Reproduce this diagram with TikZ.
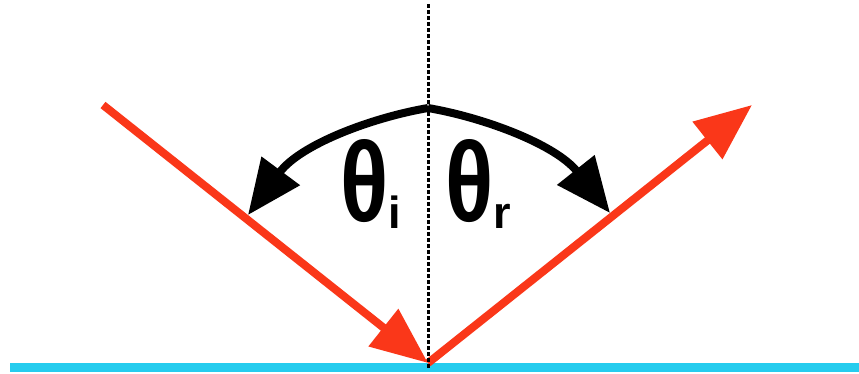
\documentclass[tikz,border=0pt]{standalone}
\usepackage{fontspec}
\setmainfont{Liberation Sans}
\usetikzlibrary{arrows.meta}
\definecolor{rayred}{RGB}{250,55,25}
\definecolor{surfcyan}{RGB}{38,204,238}
\begin{document}
\begin{tikzpicture}[x=1pt,y=-1pt,
  ray/.style={draw=rayred,line width=8pt,-{Triangle[length=57pt,width=46pt]}},
  angarc/.style={draw=black,line width=8pt,-{Triangle[length=55pt,width=46pt]}},
  normal/.style={draw=black,line width=3pt,dash pattern=on 4pt off 2pt},
  surface/.style={draw=surfcyan,line width=9pt},
  anglabel/.style={inner sep=0pt,anchor=base west,font=\bfseries\fontsize{96}{96}\selectfont}
]
\useasboundingbox (0,0) rectangle (859,374);
\fill[white] (0,0) rectangle (859,374);
\coordinate (sl) at (10,367);
\coordinate (sr) at (859,367);
\coordinate (nt) at (428,4);
\coordinate (nb) at (428,368);
\coordinate (src) at (103,105);
\coordinate (hit) at (428,363);
\coordinate (out) at (752,105);
\coordinate (top) at (428,108);
\coordinate (li) at (248,215);
\coordinate (ri) at (610,213);
\draw[surface] (sl) -- (sr);
\draw[ray] (src) -- (hit);
\draw[ray] (hit) -- (out);
\draw[normal] (nt) -- (nb);
\draw[angarc] (top) .. controls (370,118) and (300,145) .. (li);
\draw[angarc] (top) .. controls (486,118) and (556,145) .. (ri);
\node[anglabel] (ti) at (340,222) {\scalebox{0.93}[1.18]{θ}\raisebox{-7pt}{\fontsize{45}{45}\selectfont i}};
\node[anglabel] (tr) at (445,222) {\scalebox{0.93}[1.18]{θ}\raisebox{-7pt}{\fontsize{45}{45}\selectfont r}};
\end{tikzpicture}
\end{document}
